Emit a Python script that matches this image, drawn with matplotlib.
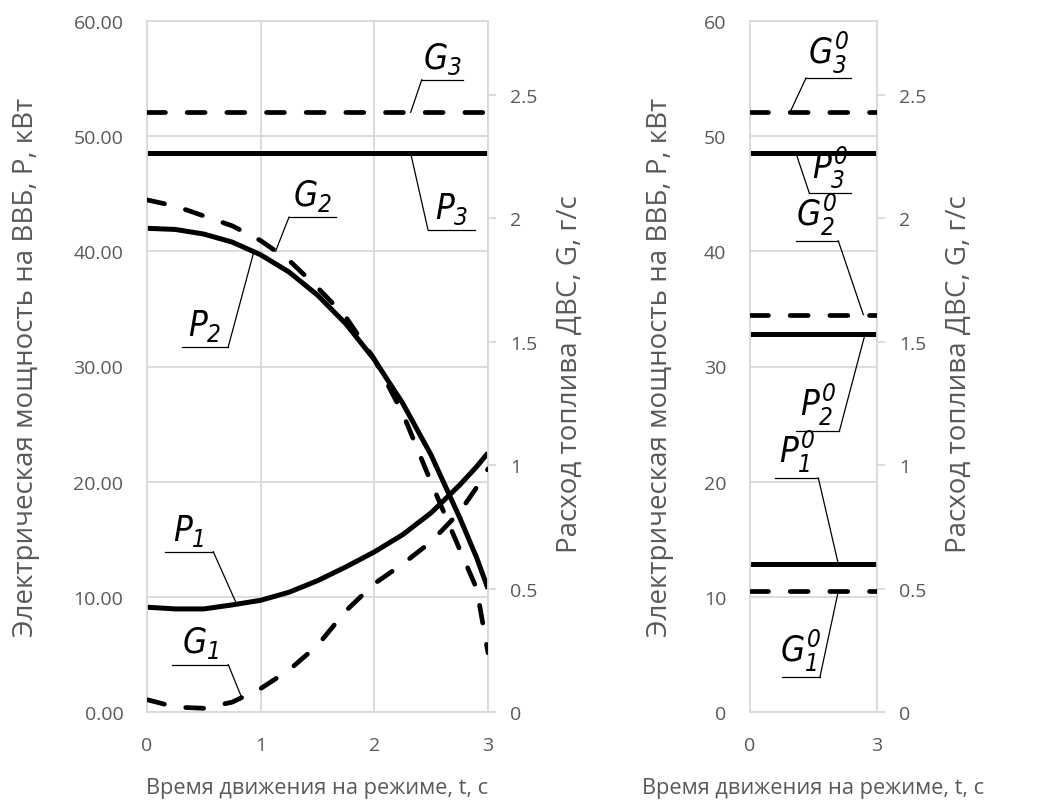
import matplotlib
matplotlib.use("Agg")
import matplotlib.pyplot as plt
from matplotlib import font_manager
from matplotlib.font_manager import FontProperties
from matplotlib.ticker import FuncFormatter

# time axis, s
T = [0, 0.25, 0.5, 0.75, 1.0, 1.25, 1.5, 1.75, 2.0, 2.25, 2.5, 2.75, 2.9, 3.0]
# electric power of the battery, kW
P1 = [9.1, 8.95, 8.95, 9.3, 9.7, 10.4, 11.4, 12.6, 13.9, 15.4, 17.3, 19.7, 21.3, 22.5]
P2 = [42.0, 41.9, 41.5, 40.8, 39.7, 38.2, 36.2, 33.7, 30.6, 26.8, 22.3, 16.9, 13.4, 10.7]
P3 = 48.5
# fuel consumption of the engine, g/s
G1 = [0.05, 0.02, 0.015, 0.04, 0.095, 0.17, 0.27, 0.41, 0.52, 0.60, 0.69, 0.81, 0.91, 0.985]
G2 = [2.075, 2.05, 2.01, 1.97, 1.91, 1.83, 1.72, 1.60, 1.43, 1.21, 0.93, 0.66, 0.50, 0.24]
G3 = 2.43

# steady (averaged) values for the right chart
T0 = [0, 3]
P1_0, P2_0, P3_0 = 12.85, 32.8, 48.5
G1_0, G2_0, G3_0 = 0.49, 1.61, 2.43

XLABEL = "Время движения на режиме, t, с"
PLABEL = "Электрическая мощность на ВВБ, P, кВт"
GLABEL = "Расход топлива ДВС, G, г/с"

GRID = "#d9d9d9"
TXT = "#595959"
W, H = 1041, 803


def pick_narrow():
    # try to find some condensed italic face for the curve labels
    tries = [("Liberation Sans Narrow", "normal", "narrow"),
             ("DejaVu Sans", "condensed", "condensed")]
    for fam, stretch, key in tries:
        try:
            path = font_manager.findfont(FontProperties(family=fam, style='italic', stretch=stretch),
                                         fallback_to_default=False)
        except Exception:
            continue
        if key in path.lower():
            return f"{fam}:italic" + (":stretch=condensed" if stretch == "condensed" else "")
    return "Liberation Sans:italic"


narrow = pick_narrow()
plt.rcParams['font.family'] = ['Open Sans', 'DejaVu Sans']
plt.rcParams['mathtext.fontset'] = 'custom'
plt.rcParams['mathtext.rm'] = narrow
plt.rcParams['mathtext.it'] = narrow

fig = plt.figure(figsize=(W / 100, H / 100), dpi=100)
ax1 = fig.add_axes([147 / W, 90 / H, 341 / W, 691 / H])
ax1g = ax1.twinx()
ax2 = fig.add_axes([750 / W, 90 / H, 127 / W, 691 / H])
ax2g = ax2.twinx()


def style(ax, axg, xticks, pfmt, plabel_x, glabel_x):
    ax.set_xlim(0, 3)
    ax.set_ylim(0, 60)
    ax.set_xticks(xticks)
    ax.set_yticks(range(0, 61, 10))
    ax.yaxis.set_major_formatter(FuncFormatter(lambda v, _: pfmt.format(v)))
    ax.grid(True, color=GRID, lw=1.3)
    ax.set_axisbelow(True)
    for s in ax.spines.values():
        s.set_color(GRID)
        s.set_linewidth(1.3)
    ax.tick_params(axis='y', length=0, pad=17, labelsize=14, labelcolor=TXT)
    ax.tick_params(axis='x', length=0, pad=17, labelsize=14, labelcolor=TXT)

    axg.set_ylim(0, 2.8)
    axg.set_yticks([0, 0.5, 1, 1.5, 2, 2.5])
    axg.yaxis.set_major_formatter(FuncFormatter(lambda v, _: f"{v:g}"))
    for s in axg.spines.values():
        s.set_visible(False)
    axg.tick_params(axis='y', length=6, width=1.3, color=GRID, pad=10,
                    labelsize=14, labelcolor=TXT)

    ax.set_xlabel(XLABEL, fontsize=15.7, color=TXT)
    ax.xaxis.set_label_coords(0.5, -0.094)
    ax.set_ylabel(PLABEL, fontsize=20, color=TXT)
    ax.yaxis.set_label_coords(plabel_x, 0.5)
    axg.set_ylabel(GLABEL, fontsize=20, color=TXT)
    axg.yaxis.set_label_coords(glabel_x, 0.49)


style(ax1, ax1g, [0, 1, 2, 3], "{:.2f}", -0.314, 1.199)
style(ax2, ax2g, [0, 3], "{:.0f}", -0.598, 1.535)

solid = dict(color='black', lw=3.6, solid_capstyle='butt')
dashed = dict(color='black', lw=3.4, ls=(0, (3.8, 4.6)), dash_capstyle='round')

# left chart
ax1.plot(T, P1, **solid)
ax1.plot(T, P2, **solid)
ax1.plot([T[0], T[-1]], [P3, P3], **solid)
ax1g.plot(T, G1, **dashed)
ax1g.plot(T, G2, **dashed)
ax1g.plot([T[0], T[-1]], [G3, G3], **dashed)

# right chart
for v in (P1_0, P2_0, P3_0):
    ax2.plot(T0, [v, v], **solid)
for v in (G1_0, G2_0, G3_0):
    ax2g.plot(T0, [v, v], **dashed)


def value_at(series, t):
    if isinstance(series, (int, float)):
        return series
    for i in range(len(T) - 1):
        if T[i] <= t <= T[i + 1]:
            k = (t - T[i]) / (T[i + 1] - T[i])
            return series[i] + k * (series[i + 1] - series[i])
    return series[-1]


def callout(ax, text, x0, x1, y, t_target, series, from_left=True):
    sx = x0 if from_left else x1
    ax.plot([x0, x1], [y, y], color='black', lw=0.9)
    ax.plot([sx, t_target], [y, value_at(series, t_target)], color='black', lw=0.9)
    ax.annotate(text, ((x0 + x1) / 2, y), xytext=(0, 3), textcoords='offset points',
                ha='center', va='bottom', fontsize=25, color='black')


callout(ax1g, r'$G_3$', 2.417, 2.777, 2.562, 2.32, G3)
callout(ax1, r'$P_3$', 2.472, 2.886, 41.88, 2.32, P3)
callout(ax1g, r'$G_2$', 1.249, 1.663, 2.005, 1.132, G2)
callout(ax1, r'$P_2$', 0.305, 0.715, 31.72, 0.94, P2, from_left=False)
callout(ax1, r'$P_1$', 0.158, 0.583, 13.92, 0.789, P1, from_left=False)
callout(ax1g, r'$G_1$', 0.217, 0.715, 0.192, 0.833, G1, from_left=False)

callout(ax2g, r'$G_3^0$', 1.323, 2.386, 2.569, 0.945, G3_0)
callout(ax2, r'$P_3^0$', 1.401, 2.386, 45.06, 1.087, P3_0)
callout(ax2g, r'$G_2^0$', 1.080, 2.086, 1.909, 2.677, G2_0, from_left=False)
callout(ax2, r'$P_2^0$', 1.087, 2.110, 24.37, 2.717, P2_0, from_left=False)
callout(ax2, r'$P_1^0$', 0.591, 1.614, 20.32, 2.086, P1_0, from_left=False)
callout(ax2g, r'$G_1^0$', 0.749, 1.654, 0.143, 2.086, G1_0, from_left=False)

fig.savefig("out.png", dpi=100)
